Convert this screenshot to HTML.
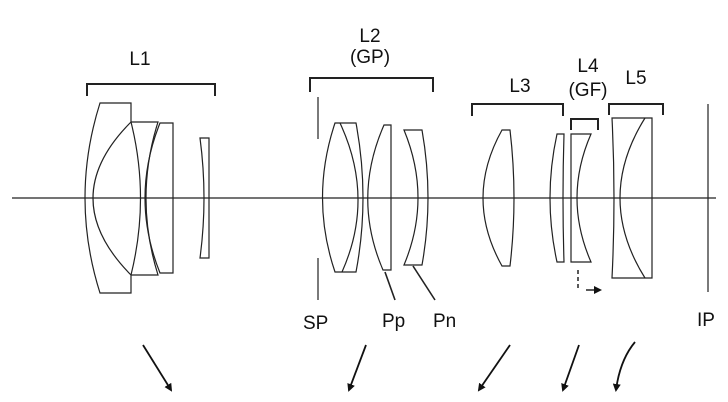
<!DOCTYPE html>
<html><head><meta charset="utf-8"><style>
html,body{margin:0;padding:0;background:#fff;width:728px;height:402px;overflow:hidden}
svg{display:block}
text{font-family:"Liberation Sans",sans-serif;font-size:19px;fill:#111}
</style></head><body>
<svg width="728" height="402" viewBox="0 0 728 402" xmlns="http://www.w3.org/2000/svg">
<defs><marker id="ah" markerWidth="8" markerHeight="8" refX="6" refY="4" orient="auto" markerUnits="userSpaceOnUse"><path d="M0,0 L8,4 L0,8 Z" fill="#111"/></marker></defs>
<g fill="none" stroke="#222" stroke-width="1.2">
<line x1="12" y1="198" x2="716" y2="198"/>
<path d="M87,96 V84 H215 V96" stroke-width="2"/>
<path d="M310,92 V78 H433 V92" stroke-width="2"/>
<path d="M472,116 V104 H563 V116" stroke-width="2"/>
<path d="M571,130 V119 H598 V130" stroke-width="2"/>
<path d="M609,115 V104 H663 V115" stroke-width="2"/>
<path d="M100,103 H131 V122 Q150,198 131,275 V293 H100 Q70,198 100,103 Z"/>
<path d="M131,122 Q55,198 131,275"/>
<path d="M131,122 H158 Q134,198 158,275 H131"/>
<path d="M160,123 H173 V273 H160 Q130,198 160,123 Z"/>
<path d="M200,138 H209 V258 H200 Q208,198 200,138 Z"/>
<line x1="318" y1="97" x2="318" y2="139"/>
<line x1="318" y1="258" x2="318" y2="300"/>
<path d="M335,123 H356 Q370,198 356,272 H335 Q310,198 335,123 Z"/>
<path d="M340,123 Q375,198 342,272"/>
<path d="M384,125 H391 V270 H383 Q352,198 384,125 Z"/>
<path d="M404,130 H422 Q434,198 422,265 H404 Q432,198 404,130 Z"/>
<line x1="385" y1="272" x2="395" y2="300" stroke-width="1.6"/>
<line x1="413" y1="266" x2="435" y2="300" stroke-width="1.6"/>
<path d="M502,130 H510 Q518,198 510,266 H502 Q464,198 502,130 Z"/>
<path d="M557,134 H564 Q562,198 564,262 H557 Q543,198 557,134 Z"/>
<path d="M571,134 H591 Q563,198 591,262 H571 Z"/>
<path d="M578,270 V290" stroke-dasharray="4,3" stroke-width="1.5"/>
<line x1="586" y1="290" x2="600" y2="290" stroke-width="1.5" marker-end="url(#ah)"/>
<path d="M612,118 H652 V278 H612 Q616,198 612,118 Z"/>
<path d="M645,118 Q595,198 645,278"/>
<line x1="708" y1="104" x2="708" y2="292"/>
<g stroke="#111" stroke-width="1.8">
<line x1="143" y1="345" x2="171" y2="390" marker-end="url(#ah)"/>
<line x1="366" y1="345" x2="349" y2="390" marker-end="url(#ah)"/>
<line x1="510" y1="345" x2="479" y2="390" marker-end="url(#ah)"/>
<line x1="579" y1="345" x2="563" y2="390" marker-end="url(#ah)"/>
<path d="M635,342 Q620,360 616,390" marker-end="url(#ah)"/>
</g>
</g>
<text x="140" y="65" text-anchor="middle">L1</text>
<text x="370" y="42" text-anchor="middle">L2</text>
<text x="370" y="63" text-anchor="middle">(GP)</text>
<text x="520" y="92" text-anchor="middle">L3</text>
<text x="588" y="72" text-anchor="middle">L4</text>
<text x="588" y="96" text-anchor="middle">(GF)</text>
<text x="636" y="84" text-anchor="middle">L5</text>
<text x="303" y="329">SP</text>
<text x="382" y="327">Pp</text>
<text x="433" y="327">Pn</text>
<text x="697" y="326">IP</text>
</svg>
</body></html>
